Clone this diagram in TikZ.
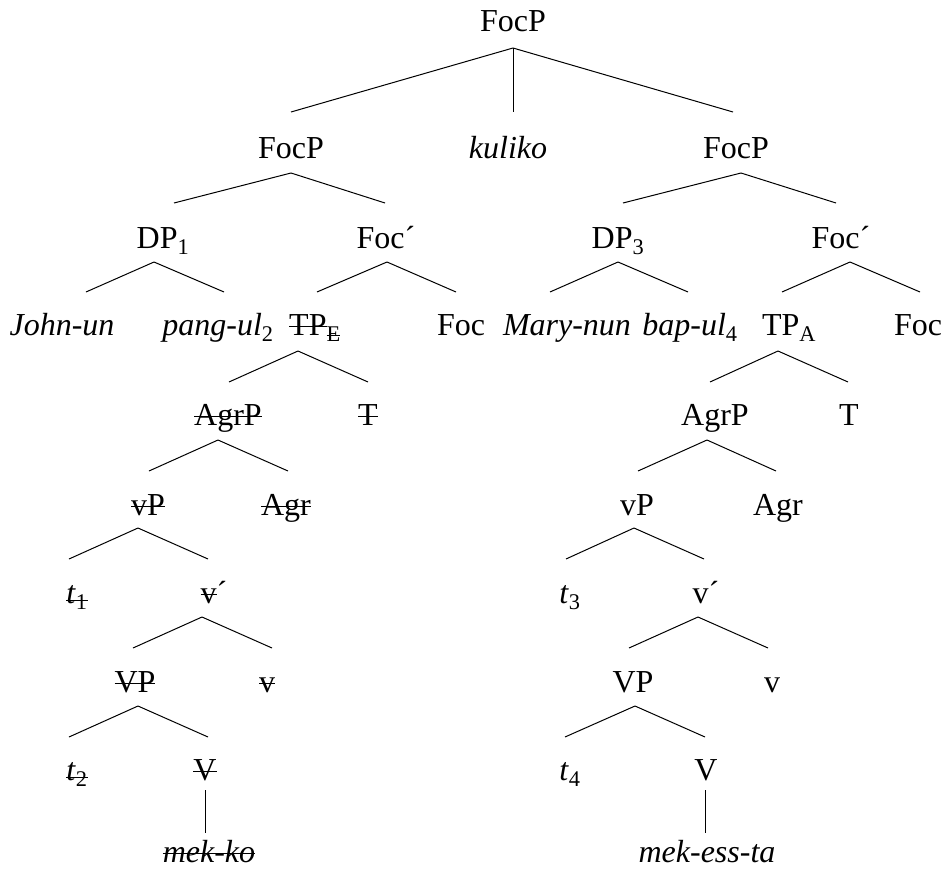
\documentclass[tikz,border=0pt]{standalone}
\usepackage{fontspec}
\setmainfont{Liberation Serif}
\usetikzlibrary{calc}
\newsavebox\stkbox
\newcommand\stk[2][8]{\sbox\stkbox{#2}\rlap{\rule[#1pt]{\wd\stkbox}{1.2pt}}\usebox\stkbox}
\newcommand\twig[6]{\draw[br] ($(#1.base)+(#2,#3)$) -- ($(#4.base)+(#5,#6)$);}
\tikzset{
  lab/.style={anchor=base, inner sep=0pt, outer sep=0pt, font=\fontsize{32}{38}\selectfont},
  br/.style={line width=1pt, black}
}
\begin{document}
\begin{tikzpicture}[x=1pt, y=-1pt]
\useasboundingbox (0,0) rectangle (947,870);
% row 0
\node[lab] (r) at (513,31) {FocP};
% row 1
\node[lab] (fl) at (291,158) {FocP};
\node[lab] (ku) at (508,158) {\textit{kuliko}};
\node[lab] (fr) at (736,158) {FocP};
% row 2
\node[lab] (dp1) at (163,248) {DP\textsubscript{1}};
\node[lab] (fbl) at (386,248) {Foc´};
\node[lab] (dp3) at (618,248) {DP\textsubscript{3}};
\node[lab] (fbr) at (841,248) {Foc´};
% row 3
\node[lab] (john) at (62,335) {\textit{John-un}};
\node[lab] (pang) at (218,335) {\textit{pang-ul}\textsubscript{2}};
\node[lab] (tpe) at (315,335) {\stk{TP}\textsubscript{\stk[5]{E}}};
\node[lab] (focl) at (461,335) {Foc};
\node[lab] (mary) at (567,335) {\textit{Mary-nun}};
\node[lab] (bap) at (690,335) {\textit{bap-ul}\textsubscript{4}};
\node[lab] (tpa) at (789,335) {TP\textsubscript{A}};
\node[lab] (focr) at (918,335) {Foc};
% row 4
\node[lab] (agrpl) at (228,425) {\stk{AgrP}};
\node[lab] (tl) at (368,425) {\stk{T}};
\node[lab] (agrpr) at (715,425) {AgrP};
\node[lab] (tr) at (849,425) {T};
% row 5
\node[lab] (vpl) at (148,515) {\stk{vP}};
\node[lab] (agrl) at (286,515) {\stk{Agr}};
\node[lab] (vpr) at (637,515) {vP};
\node[lab] (agrr) at (778,515) {Agr};
% row 6
\node[lab] (t1) at (77,603) {\stk[2]{\textit{t}\textsubscript{1}}};
\node[lab] (vbl) at (214,603) {\stk{v}´};
\node[lab] (t3) at (570,603) {\textit{t}\textsubscript{3}};
\node[lab] (vbr) at (706,603) {v´};
% row 7
\node[lab] (VPl) at (135,692) {\stk{VP}};
\node[lab] (vl) at (267,692) {\stk{v}};
\node[lab] (VPr) at (633,692) {VP};
\node[lab] (vr) at (772,692) {v};
% row 8
\node[lab] (t2) at (77,780) {\stk[2]{\textit{t}\textsubscript{2}}};
\node[lab] (Vl) at (205,780) {\stk{V}};
\node[lab] (t4) at (570,780) {\textit{t}\textsubscript{4}};
\node[lab] (Vr) at (706,780) {V};
% row 9
\node[lab] (mk) at (209,862) {\stk{\textit{mek-ko}}};
\node[lab] (me) at (707,862) {\textit{mek-ess-ta}};
% branches
\twig{r}{0}{17}{fl}{0}{-46}
\twig{r}{0}{17}{ku}{5}{-46}
\twig{r}{0}{17}{fr}{-3}{-46}
\twig{fl}{0}{15}{dp1}{11}{-45}
\twig{fl}{0}{15}{fbl}{-1}{-45}
\twig{fr}{5}{15}{dp3}{5}{-45}
\twig{fr}{5}{15}{fbr}{-5}{-45}
\twig{dp1}{-9}{14}{john}{24}{-43}
\twig{dp1}{-9}{14}{pang}{6}{-43}
\twig{fbl}{1}{14}{tpe}{2}{-43}
\twig{fbl}{1}{14}{focl}{-5}{-43}
\twig{dp3}{0}{14}{mary}{-17}{-43}
\twig{dp3}{0}{14}{bap}{-2}{-43}
\twig{fbr}{9}{14}{tpa}{-7}{-43}
\twig{fbr}{9}{14}{focr}{2}{-43}
\twig{tpe}{-17}{16}{agrpl}{1}{-43}
\twig{tpe}{-17}{16}{tl}{0}{-43}
\twig{tpa}{-11}{16}{agrpr}{-5}{-43}
\twig{tpa}{-11}{16}{tr}{-1}{-43}
\twig{agrpl}{-10}{15}{vpl}{1}{-44}
\twig{agrpl}{-10}{15}{agrl}{2}{-44}
\twig{agrpr}{-8}{15}{vpr}{1}{-44}
\twig{agrpr}{-8}{15}{agrr}{-2}{-44}
\twig{vpl}{-10}{13}{t1}{-8}{-44}
\twig{vpl}{-10}{13}{vbl}{-6}{-44}
\twig{vpr}{-3}{13}{t3}{-4}{-44}
\twig{vpr}{-3}{13}{vbr}{-2}{-44}
\twig{vbl}{-12}{14}{VPl}{-2}{-44}
\twig{vbl}{-12}{14}{vl}{5}{-44}
\twig{vbr}{-8}{14}{VPr}{-4}{-44}
\twig{vbr}{-8}{14}{vr}{-4}{-44}
\twig{VPl}{3}{14}{t2}{-8}{-43}
\twig{VPl}{3}{14}{Vl}{3}{-43}
\twig{VPr}{2}{14}{t4}{-5}{-43}
\twig{VPr}{2}{14}{Vr}{-1}{-43}
\twig{Vl}{0}{10}{mk}{-4}{-29}
\twig{Vr}{-1}{10}{me}{-2}{-29}
\end{tikzpicture}
\end{document}
